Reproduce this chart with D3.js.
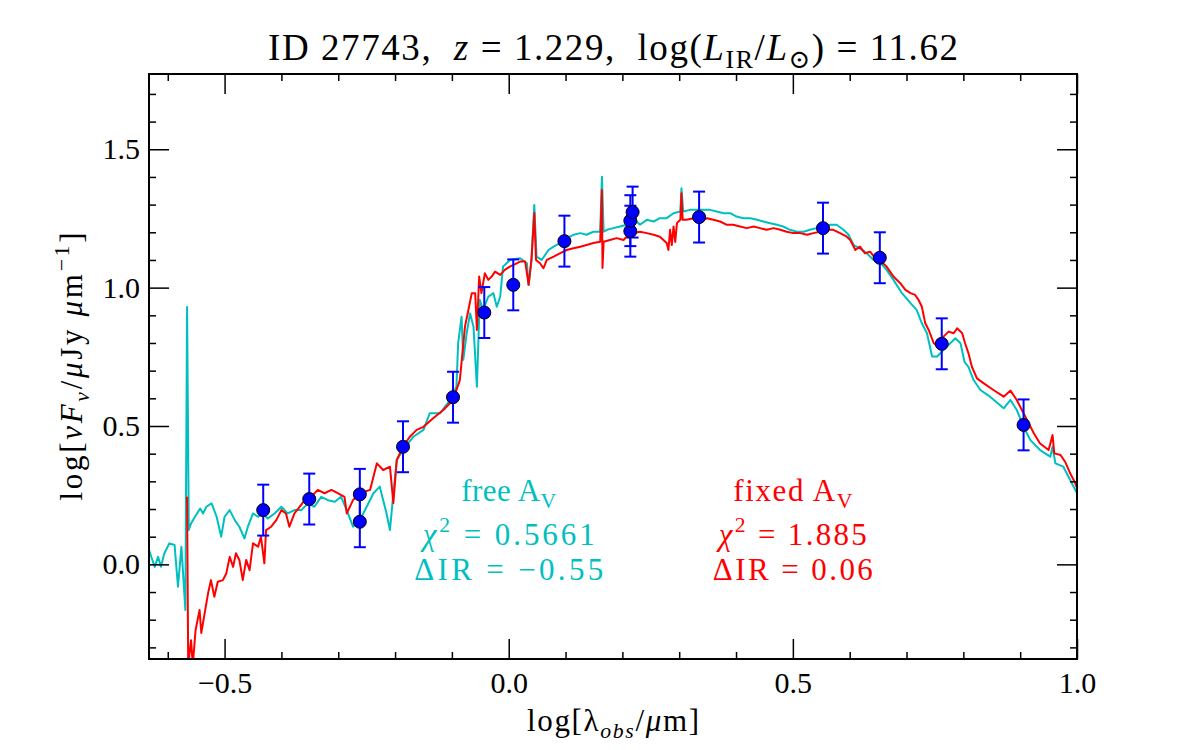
<!DOCTYPE html>
<html>
<head>
<meta charset="utf-8">
<script src="https://cdn.jsdelivr.net/npm/d3@7"></script>
<style>
  html, body { margin: 0; padding: 0; background: #fff; }
  svg text { font-family: "Liberation Serif", "DejaVu Serif", serif; white-space: pre; }
</style>
</head>
<body>
<svg id="chart" width="1200" height="750"></svg>
<script>
// ---------------- data ----------------
const xDomain = [-0.633, 1.0];
const yDomain = [-0.342, 1.772];

const xMajorTicks = [-0.5, 0.0, 0.5, 1.0];
const xTickLabels = ["\u22120.5", "0.0", "0.5", "1.0"];
const yMajorTicks = [0.0, 0.5, 1.0, 1.5];
const yTickLabels = ["0.0", "0.5", "1.0", "1.5"];

// photometry
const photX   = [-0.432, -0.351, -0.262, -0.262, -0.186, -0.098, -0.043, 0.008, 0.098, 0.214, 0.214, 0.218, 0.335, 0.553, 0.653, 0.762, 0.906];
const photY   = [0.196, 0.236, 0.253, 0.154, 0.425, 0.604, 0.910, 1.010, 1.168, 1.204, 1.242, 1.273, 1.255, 1.215, 1.108, 0.797, 0.504];
const photErr = [0.092, 0.092, 0.092, 0.092, 0.092, 0.092, 0.092, 0.092, 0.092, 0.092, 0.092, 0.092, 0.092, 0.092, 0.092, 0.092, 0.092];

// free A_V model (cyan)
const freeX = [-0.633,-0.623,-0.617,-0.612,-0.606,-0.597,-0.588,-0.582,-0.576,-0.569,-0.566,-0.563,-0.559,-0.552,-0.543,-0.538,-0.532,-0.523,-0.514,-0.506,-0.500,-0.491,-0.482,-0.474,-0.465,-0.459,-0.450,-0.441,-0.433,-0.424,-0.412,-0.400,-0.389,-0.377,-0.365,-0.353,-0.342,-0.330,-0.318,-0.306,-0.295,-0.285,-0.274,-0.262,-0.250,-0.238,-0.227,-0.215,-0.209,-0.203,-0.197,-0.186,-0.168,-0.150,-0.139,-0.121,-0.103,-0.092,-0.089,-0.083,-0.080,-0.074,-0.068,-0.062,-0.056,-0.051,-0.045,-0.036,-0.027,-0.021,-0.015,-0.010,0.002,0.020,0.032,0.035,0.040,0.045,0.049,0.058,0.070,0.079,0.090,0.102,0.114,0.126,0.137,0.149,0.161,0.164,0.167,0.173,0.184,0.196,0.208,0.214,0.225,0.231,0.243,0.255,0.266,0.278,0.290,0.302,0.304,0.307,0.319,0.331,0.343,0.354,0.366,0.378,0.390,0.401,0.413,0.425,0.437,0.448,0.460,0.472,0.483,0.495,0.507,0.519,0.530,0.542,0.554,0.566,0.577,0.589,0.598,0.607,0.618,0.630,0.642,0.655,0.665,0.677,0.692,0.707,0.718,0.727,0.736,0.745,0.754,0.765,0.777,0.786,0.795,0.802,0.809,0.818,0.830,0.847,0.871,0.883,0.894,0.906,0.918,0.935,0.953,0.957,0.962,0.976,0.988,1.000];
const freeY = [0.052,-0.009,0.027,-0.009,0.040,0.076,0.070,-0.081,0.064,-0.165,0.930,0.124,0.148,0.172,0.202,0.184,0.208,0.221,0.172,0.100,0.172,0.196,0.160,0.136,0.094,0.136,0.184,0.172,0.184,0.166,0.184,0.208,0.184,0.196,0.196,0.221,0.208,0.244,0.232,0.226,0.244,0.196,0.136,0.160,0.208,0.257,0.281,0.184,0.124,0.257,0.377,0.413,0.461,0.486,0.546,0.546,0.594,0.642,0.799,0.895,0.739,0.835,0.907,0.859,0.642,0.956,0.919,0.967,0.980,0.931,0.967,1.076,1.100,1.106,1.088,1.010,1.100,1.299,1.112,1.100,1.136,1.148,1.161,1.179,1.191,1.197,1.191,1.202,1.202,1.401,1.202,1.209,1.215,1.221,1.227,1.239,1.239,1.227,1.245,1.239,1.251,1.251,1.269,1.275,1.359,1.275,1.281,1.281,1.281,1.281,1.275,1.269,1.269,1.257,1.251,1.251,1.245,1.239,1.233,1.227,1.221,1.209,1.202,1.202,1.209,1.215,1.221,1.227,1.227,1.209,1.191,1.154,1.142,1.124,1.100,1.088,1.064,1.028,0.980,0.944,0.919,0.871,0.835,0.751,0.751,0.775,0.799,0.817,0.799,0.732,0.714,0.666,0.630,0.606,0.564,0.594,0.558,0.497,0.449,0.413,0.389,0.425,0.365,0.353,0.305,0.257];

// fixed A_V model (red)
const fixedX = [-0.566,-0.564,-0.559,-0.556,-0.551,-0.544,-0.541,-0.535,-0.529,-0.524,-0.518,-0.512,-0.503,-0.497,-0.491,-0.485,-0.480,-0.474,-0.468,-0.462,-0.456,-0.450,-0.441,-0.436,-0.430,-0.427,-0.418,-0.409,-0.400,-0.392,-0.386,-0.377,-0.368,-0.359,-0.348,-0.336,-0.324,-0.312,-0.301,-0.289,-0.285,-0.274,-0.262,-0.244,-0.232,-0.221,-0.209,-0.203,-0.197,-0.186,-0.174,-0.162,-0.150,-0.133,-0.115,-0.098,-0.086,-0.077,-0.071,-0.065,-0.059,-0.056,-0.052,-0.048,-0.042,-0.036,-0.030,-0.024,-0.015,-0.007,0.002,0.014,0.020,0.029,0.035,0.040,0.045,0.048,0.055,0.061,0.067,0.079,0.090,0.102,0.114,0.126,0.137,0.149,0.161,0.164,0.165,0.167,0.178,0.190,0.202,0.211,0.219,0.231,0.243,0.255,0.266,0.278,0.281,0.284,0.287,0.290,0.293,0.296,0.302,0.304,0.306,0.313,0.325,0.337,0.349,0.360,0.372,0.384,0.395,0.407,0.419,0.431,0.442,0.454,0.466,0.478,0.489,0.501,0.513,0.525,0.536,0.548,0.560,0.571,0.583,0.595,0.601,0.610,0.618,0.627,0.636,0.645,0.655,0.665,0.677,0.689,0.698,0.707,0.715,0.721,0.727,0.733,0.739,0.748,0.756,0.765,0.774,0.783,0.789,0.798,0.803,0.809,0.815,0.824,0.836,0.853,0.871,0.883,0.894,0.903,0.912,0.924,0.935,0.950,0.957,0.960,0.971,0.979,0.988,0.997,1.006];
const fixedY = [0.244,-0.364,-0.274,-0.364,-0.237,-0.165,-0.248,-0.176,-0.104,-0.057,-0.117,-0.063,-0.057,-0.033,0.027,-0.009,0.040,0.016,-0.057,0.016,-0.021,0.076,0.064,0.100,0.004,0.124,0.136,0.160,0.196,0.184,0.136,0.184,0.208,0.232,0.244,0.269,0.257,0.269,0.257,0.244,0.184,0.232,0.257,0.269,0.365,0.341,0.353,0.221,0.377,0.425,0.461,0.486,0.497,0.528,0.558,0.594,0.666,0.859,0.919,0.980,0.980,0.847,1.040,0.980,1.052,1.028,1.040,1.058,1.046,1.064,1.076,1.088,1.094,1.094,1.010,1.100,1.270,1.100,1.088,1.070,1.100,1.112,1.124,1.136,1.142,1.148,1.154,1.161,1.166,1.353,1.071,1.166,1.172,1.179,1.172,1.191,1.197,1.202,1.197,1.191,1.184,1.161,1.136,1.209,1.154,1.221,1.165,1.233,1.245,1.341,1.245,1.245,1.251,1.239,1.251,1.245,1.239,1.227,1.227,1.221,1.215,1.221,1.215,1.209,1.215,1.209,1.202,1.197,1.197,1.191,1.197,1.202,1.209,1.209,1.197,1.184,1.172,1.136,1.148,1.124,1.130,1.106,1.094,1.076,1.040,1.016,0.992,0.980,0.974,0.956,0.931,0.871,0.847,0.799,0.787,0.823,0.841,0.835,0.853,0.835,0.799,0.763,0.714,0.672,0.654,0.630,0.606,0.628,0.594,0.558,0.522,0.474,0.437,0.413,0.467,0.401,0.395,0.371,0.329,0.293,0.244];

// annotations
const freeLabel  = { x: 0.0, lines: [[{t:"free A"},{t:"V",sub:true}], [{t:"\u03C7",i:true},{t:"2",sup:true},{t:" = 0.5661"}], [{t:"\u0394IR = \u22120.55"}]] };
const fixedLabel = { x: 0.5, lines: [[{t:"fixed A"},{t:"V",sub:true}], [{t:"\u03C7",i:true},{t:"2",sup:true},{t:" = 1.885"}], [{t:"\u0394IR = 0.06"}]] };

const titleSegs = [{t:"ID 27743,  "},{t:"z",i:true},{t:" = 1.229,  log("},{t:"L",i:true},{t:"IR",sub:true},{t:"/"},{t:"L",i:true},{t:"\u2299",sub:true},{t:") = 11.62"}];
const yLabelSegs = [{t:"log["},{t:"\u03BDF",i:true},{t:"\u03BD",i:true,sub:true},{t:"/"},{t:"\u03BC",i:true},{t:"Jy "},{t:"\u03BC",i:true},{t:"m"},{t:"\u22121",sup:true},{t:"]"}];
const xLabelSegs = [{t:"log[\u03BB"},{t:"obs",i:true,sub:true},{t:"/"},{t:"\u03BC",i:true},{t:"m]"}];

// ---------------- drawing ----------------
const svg = d3.select("#chart");
const M = { left: 149, right: 1077, top: 74, bottom: 659 };
const x = d3.scaleLinear().domain(xDomain).range([M.left, M.right]);
const y = d3.scaleLinear().domain(yDomain).range([M.bottom, M.top]);

const CYAN = "#00bfbf", RED = "#ff0000", BLUE = "#0000ff";

function rich(textSel, segs, size) {
  let prev = 0;
  segs.forEach(s => {
    const ts = textSel.append("tspan").text(s.t);
    if (s.i) ts.attr("font-style", "italic");
    let shift = 0;
    if (s.sub) shift = 0.22 * size;
    if (s.sup) shift = -0.42 * size;
    if (s.sub || s.sup) ts.attr("font-size", size * 0.7);
    if (shift - prev !== 0) ts.attr("dy", shift - prev);
    prev = shift;
  });
}

svg.append("defs").append("clipPath").attr("id", "clip")
  .append("rect").attr("x", M.left).attr("y", M.top)
  .attr("width", M.right - M.left).attr("height", M.bottom - M.top);

const plot = svg.append("g").attr("clip-path", "url(#clip)");
const line = d3.line().x(d => x(d[0])).y(d => y(d[1]));

plot.append("path").datum(d3.zip(freeX, freeY))
  .attr("d", line).attr("fill", "none").attr("stroke", CYAN).attr("stroke-width", 2).attr("stroke-linejoin", "round");
plot.append("path").datum(d3.zip(fixedX, fixedY))
  .attr("d", line).attr("fill", "none").attr("stroke", RED).attr("stroke-width", 2).attr("stroke-linejoin", "round");

// error bars
const phot = photX.map((v, i) => ({ x: v, y: photY[i], e: photErr[i] }));
const eb = plot.append("g").attr("stroke", BLUE).attr("stroke-width", 2);
phot.forEach(d => {
  eb.append("line").attr("x1", x(d.x)).attr("x2", x(d.x)).attr("y1", y(d.y - d.e)).attr("y2", y(d.y + d.e));
  [d.y - d.e, d.y + d.e].forEach(v => {
    eb.append("line").attr("x1", x(d.x) - 6).attr("x2", x(d.x) + 6).attr("y1", y(v)).attr("y2", y(v));
  });
});
plot.append("g").selectAll("circle").data(phot).join("circle")
  .attr("cx", d => x(d.x)).attr("cy", d => y(d.y)).attr("r", 6.5)
  .attr("fill", BLUE).attr("stroke", "#000").attr("stroke-width", 1);

// axes: ticks inward on all four sides
const round1 = v => Math.round(v * 10) / 10;
const xMinor = d3.range(-6, 11).map(v => round1(v / 10)).filter(v => !xMajorTicks.includes(v));
const yMinor = d3.range(-3, 18).map(v => round1(v / 10)).filter(v => !yMajorTicks.includes(v));

function styleAxis(g) {
  g.select(".domain").remove();
  g.selectAll(".tick line").attr("stroke", "#000").attr("stroke-width", 1.5);
  g.selectAll(".tick text").attr("font-family", "Liberation Serif, serif").attr("font-size", 30).attr("fill", "#000");
}
const MAJ = 20, MIN = 7;
svg.append("g").attr("transform", `translate(0,${M.bottom})`)
  .call(d3.axisBottom(x).tickValues(xMajorTicks).tickSize(-MAJ).tickPadding(13).tickFormat((d, i) => xTickLabels[i])).call(styleAxis);
svg.append("g").attr("transform", `translate(0,${M.bottom})`)
  .call(d3.axisBottom(x).tickValues(xMinor).tickSize(-MIN).tickFormat("")).call(styleAxis);
svg.append("g").attr("transform", `translate(0,${M.top})`)
  .call(d3.axisTop(x).tickValues(xMajorTicks).tickSize(-MAJ).tickFormat("")).call(styleAxis);
svg.append("g").attr("transform", `translate(0,${M.top})`)
  .call(d3.axisTop(x).tickValues(xMinor).tickSize(-MIN).tickFormat("")).call(styleAxis);
svg.append("g").attr("transform", `translate(${M.left},0)`)
  .call(d3.axisLeft(y).tickValues(yMajorTicks).tickSize(-MAJ).tickPadding(9).tickFormat((d, i) => yTickLabels[i])).call(styleAxis);
svg.append("g").attr("transform", `translate(${M.left},0)`)
  .call(d3.axisLeft(y).tickValues(yMinor).tickSize(-MIN).tickFormat("")).call(styleAxis);
svg.append("g").attr("transform", `translate(${M.right},0)`)
  .call(d3.axisRight(y).tickValues(yMajorTicks).tickSize(-MAJ).tickFormat("")).call(styleAxis);
svg.append("g").attr("transform", `translate(${M.right},0)`)
  .call(d3.axisRight(y).tickValues(yMinor).tickSize(-MIN).tickFormat("")).call(styleAxis);

svg.append("rect").attr("x", M.left).attr("y", M.top)
  .attr("width", M.right - M.left).attr("height", M.bottom - M.top)
  .attr("fill", "none").attr("stroke", "#000").attr("stroke-width", 2);

// annotations (widths matched to the reference's wider TeX typesetting)
function annot(lbl, color, widths) {
  const ys = [501, 545, 580];
  lbl.lines.forEach((segs, i) => {
    const t = svg.append("text").attr("x", x(lbl.x)).attr("y", ys[i])
      .attr("text-anchor", "middle").attr("font-size", 31).attr("fill", color)
      .attr("textLength", widths[i]).attr("lengthAdjust", "spacing");
    rich(t, segs, 31);
  });
}
annot(freeLabel, CYAN, [95, 172, 189]);
annot(fixedLabel, RED, [119, 148, 160]);

// title
const tt = svg.append("text").attr("x", (M.left + M.right) / 2).attr("y", 60)
  .attr("text-anchor", "middle").attr("font-size", 37).attr("fill", "#000")
  .attr("textLength", 690).attr("lengthAdjust", "spacing");
rich(tt, titleSegs, 37);

// x label
const xl = svg.append("text").attr("x", (M.left + M.right) / 2).attr("y", 731)
  .attr("text-anchor", "middle").attr("font-size", 31).attr("fill", "#000")
  .attr("textLength", 172).attr("lengthAdjust", "spacing");
rich(xl, xLabelSegs, 31);

// y label
const yl = svg.append("text")
  .attr("transform", `translate(82,${(M.top + M.bottom) / 2}) rotate(-90)`)
  .attr("text-anchor", "middle").attr("font-size", 31).attr("fill", "#000")
  .attr("textLength", 268).attr("lengthAdjust", "spacing");
rich(yl, yLabelSegs, 31);
</script>
</body>
</html>
